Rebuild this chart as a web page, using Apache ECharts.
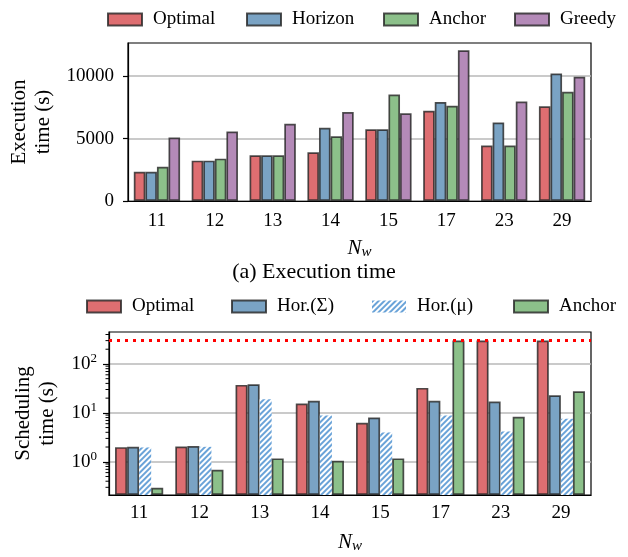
<!DOCTYPE html>
<html>
<head>
<meta charset="utf-8">
<script src="https://cdn.jsdelivr.net/npm/echarts@6/dist/echarts.min.js"></script>
<style>
  html, body { margin: 0; padding: 0; background: #fff; }
  #chart { width: 628px; height: 557px; }
</style>
</head>
<body>
<div id="chart"></div>
<script>
// categories (N_w)
var nw = ["11", "12", "13", "14", "15", "17", "23", "29"];

// (a) execution time, seconds
var execOptimal = [2340, 3230, 3660, 3900, 5750, 7230, 4440, 7580];
var execHorizon = [2340, 3230, 3660, 5860, 5750, 7930, 6290, 10210];
var execAnchor = [2740, 3390, 3660, 5190, 8520, 7630, 4440, 8740];
var execGreedy = [5080, 5570, 6180, 7120, 7020, 12070, 7960, 9950];
var execTicks = [0, 5000, 10000];

// scheduling time, seconds (log)
var schedOptimal = [1.99, 2.05, 37.3, 15.5, 6.25, 32.4, 300, 300];
var schedHorSum = [2.02, 2.09, 38.5, 17.6, 8.03, 17.6, 17.0, 22.9];
var schedHorMu = [1.96, 2.02, 19.0, 8.8, 3.97, 8.8, 4.16, 7.55];
var schedAnchor = [0.295, 0.687, 1.17, 1.05, 1.17, 300, 8.29, 27.7];
var schedTimeout = 300;
var logMajor = [1, 10, 100];
var logMinor = [0.3, 0.4, 0.5, 0.6, 0.7, 0.8, 0.9, 2, 3, 4, 5, 6, 7, 8, 9,
  20, 30, 40, 50, 60, 70, 80, 90, 200, 300, 400];

var FONT = "Liberation Serif";
var cRed = "#de6e71", cBlue = "#7aa3c4", cGreen = "#8cc08a", cPurple = "#b48ab8";
var edge = "rgba(35,35,35,0.8)";

var myChart = echarts.init(document.getElementById("chart"));

function barSeries(name, data, color, xi, yi) {
  return {
    name: name,
    type: "bar",
    xAxisIndex: xi,
    yAxisIndex: yi,
    data: data,
    barGap: "0%",
    barCategoryGap: "20%",
    itemStyle: { color: color, borderColor: edge, borderWidth: 1.7 },
  };
}

function legendAt(name, left, top) {
  return {
    data: [name],
    left: left,
    top: top,
    padding: 0,
    icon: "rect",
    itemWidth: 34,
    itemHeight: 12,
    selectedMode: false,
    textStyle: { fontFamily: FONT, fontSize: 19, color: "#000", padding: [0, 0, 0, 6] },
  };
}

var hatched = {
  name: "Hor.(μ)",
  type: "bar",
  xAxisIndex: 1,
  yAxisIndex: 1,
  data: schedHorMu,
  barGap: "0%",
  barCategoryGap: "20%",
  itemStyle: {
    color: "#ffffff",
    borderWidth: 0,
    decal: {
      symbol: "rect",
      symbolSize: 1,
      color: "#6aa3d8",
      dashArrayX: [[1, 0]],
      dashArrayY: [2, 2],
      rotation: -Math.PI / 4,
    },
  },
};

var optBottom = barSeries("Optimal", schedOptimal, cRed, 1, 1);
optBottom.markLine = {
  silent: true,
  symbol: "none",
  label: { show: false },
  lineStyle: { color: "#ff0000", type: [3, 5], width: 3 },
  data: [{ yAxis: schedTimeout }],
};

// log minor ticks on the left spine, placed through the log axis
var minorTicks = {
  type: "custom",
  xAxisIndex: 1,
  yAxisIndex: 1,
  silent: true,
  clip: false,
  data: logMinor.map(function (v) {
    return [0, v];
  }),
  renderItem: function (params, api) {
    var y = api.coord([0, api.value(1)])[1];
    var x = params.coordSys.x;
    return {
      type: "line",
      shape: { x1: x - 3.5, y1: y, x2: x, y2: y },
      style: { stroke: "#000", lineWidth: 1 },
    };
  },
};

var option = {
  animation: false,
  backgroundColor: "#fff",
  textStyle: { fontFamily: FONT },
  title: {
    text: "(a) Execution time",
    left: "center",
    top: 256,
    textStyle: { fontFamily: FONT, fontSize: 22, fontWeight: "normal", color: "#000" },
  },
  legend: [
    legendAt("Optimal", 107, 10),
    legendAt("Horizon", 246, 10),
    legendAt("Anchor", 383, 10),
    legendAt("Greedy", 514, 10),
    legendAt("Optimal", 86, 297),
    legendAt("Hor.(Σ)", 231, 297),
    legendAt("Hor.(μ)", 372, 297),
    legendAt("Anchor", 513, 297),
  ],
  grid: [
    { left: 128, right: 37, top: 43, height: 158, outerBoundsMode: "none", containLabel: false,
      show: true, borderColor: "#000", borderWidth: 1.2, backgroundColor: "transparent" },
    { left: 109, right: 37, top: 332, height: 163, outerBoundsMode: "none", containLabel: false,
      show: true, borderColor: "#000", borderWidth: 1.2, backgroundColor: "transparent" },
  ],
  xAxis: [0, 1].map(function (gi) {
    return {
      type: "category",
      gridIndex: gi,
      data: nw,
      name: "{i|N}{s|w}",
      nameLocation: "middle",
      nameGap: 36,
      nameTextStyle: {
        rich: {
          i: { fontFamily: FONT, fontStyle: "italic", fontSize: 21, color: "#000" },
          s: { fontFamily: FONT, fontStyle: "italic", fontSize: 15, color: "#000", padding: [8, 0, 0, 0] },
        },
      },
      axisLine: { lineStyle: { color: "#000", width: 1.2 } },
      axisTick: { alignWithLabel: true, length: 5, lineStyle: { color: "#000", width: 1.2 } },
      axisLabel: { fontFamily: FONT, fontSize: 19, color: "#000", margin: gi === 0 ? 11 : 9 },
      splitLine: { show: false },
    };
  }),
  yAxis: [
    {
      type: "value",
      gridIndex: 0,
      min: 0,
      max: 12650,
      name: "Execution\ntime (s)",
      nameLocation: "middle",
      nameGap: 65,
      nameTextStyle: { fontFamily: FONT, fontSize: 21, color: "#000", lineHeight: 24 },
      axisLine: { show: true, lineStyle: { color: "#000", width: 1.2 } },
      axisTick: { show: true, length: 5, customValues: execTicks, lineStyle: { color: "#000", width: 1.2 } },
      axisLabel: {
        fontFamily: FONT,
        fontSize: 19,
        color: "#000",
        margin: 14,
        customValues: execTicks,
        formatter: function (v) {
          return String(v);
        },
      },
      splitLine: { show: true, lineStyle: { color: "#b8b8b8", width: 1.5 } },
    },
    {
      type: "log",
      gridIndex: 1,
      logBase: 10,
      min: 0.209,
      max: 450,
      startValue: 0.209,
      name: "Scheduling\ntime (s)",
      nameLocation: "middle",
      nameGap: 50,
      nameTextStyle: { fontFamily: FONT, fontSize: 21, color: "#000", lineHeight: 24 },
      axisLine: { show: true, lineStyle: { color: "#000", width: 1.2 } },
      axisTick: { show: true, length: 6, customValues: logMajor, lineStyle: { color: "#000", width: 1.2 } },
      axisLabel: {
        customValues: logMajor,
        margin: 12,
        formatter: function (v) {
          return "{b|10}{s|" + Math.round(Math.log10(v)) + "}";
        },
        rich: {
          b: { fontFamily: FONT, fontSize: 19, color: "#000" },
          s: { fontFamily: FONT, fontSize: 13, color: "#000", padding: [0, 0, 10, 0] },
        },
      },
      splitLine: { show: true, lineStyle: { color: "#b8b8b8", width: 1.5 } },
    },
  ],
  series: [
    barSeries("Optimal", execOptimal, cRed, 0, 0),
    barSeries("Horizon", execHorizon, cBlue, 0, 0),
    barSeries("Anchor", execAnchor, cGreen, 0, 0),
    barSeries("Greedy", execGreedy, cPurple, 0, 0),
    optBottom,
    barSeries("Hor.(Σ)", schedHorSum, cBlue, 1, 1),
    hatched,
    barSeries("Anchor", schedAnchor, cGreen, 1, 1),
    minorTicks,
  ],
};

myChart.setOption(option);
window.onresize = function () {
  myChart.resize();
};
</script>
</body>
</html>
